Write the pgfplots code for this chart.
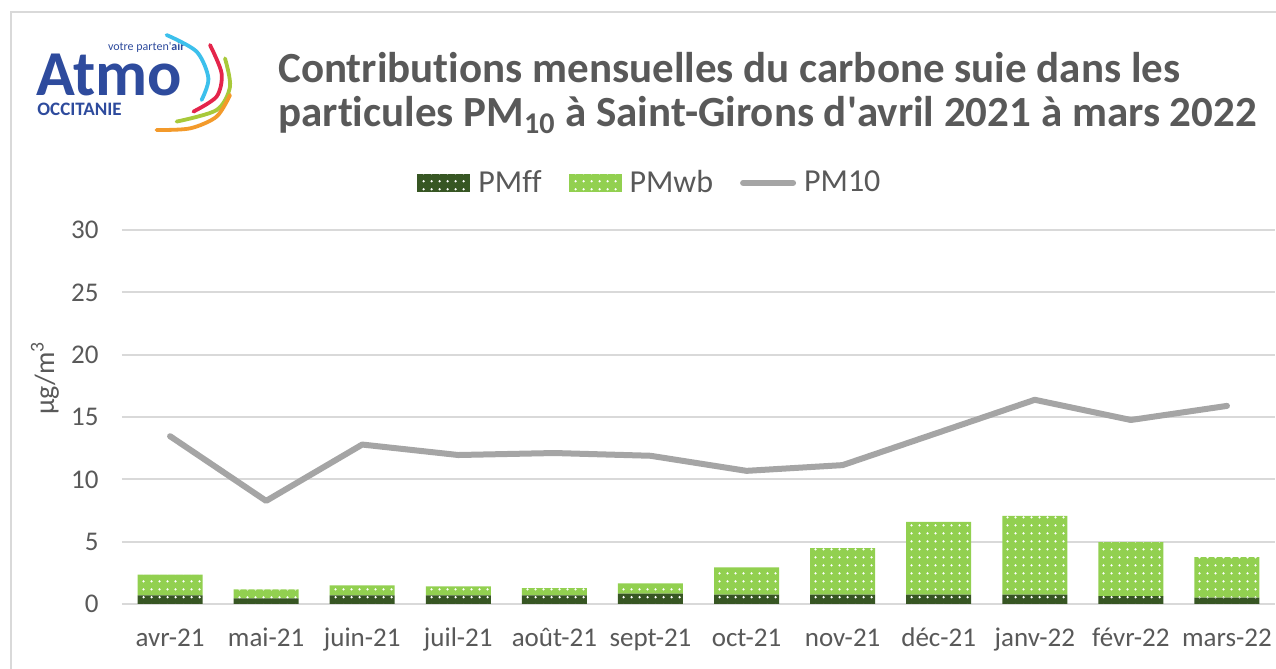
\documentclass[border=0pt]{standalone}
\usepackage{pgfplots}
\pgfplotsset{compat=1.18}
\usepackage{pgfplotstable}
\usepackage{fontspec}
\setmainfont{Carlito}[Ligatures={NoCommon}]
\usetikzlibrary{patterns.meta}
\definecolor{pmff}{HTML}{375623}
\definecolor{pmwb}{HTML}{92D050}
\definecolor{pmline}{HTML}{A5A5A5}
\definecolor{txt}{HTML}{595959}
\definecolor{gridc}{HTML}{D9D9D9}
\definecolor{atmoblue}{HTML}{2E4B9D}
\definecolor{acyan}{HTML}{3CC0EC}
\definecolor{ared}{HTML}{E4254B}
\definecolor{agreen}{HTML}{A8C93A}
\definecolor{aorange}{HTML}{F39A2B}

\pgfplotsset{
  barleg/.style={legend image code/.code={\path[##1, draw=none] (0pt,-4.5pt) rectangle (26.5pt,4.5pt);}},
  lineleg/.style={legend image code/.code={\draw[pmline, line width=3pt, line cap=round] (1.5pt,0pt) -- (26.5pt,0pt);}},
}

\pgfplotstableread{
x ff wb pm
0 0.70 1.65 13.46
1 0.45 0.73 8.27
2 0.70 0.80 12.79
3 0.70 0.72 11.95
4 0.70 0.58 12.11
5 0.83 0.83 11.89
6 0.76 2.17 10.68
7 0.76 3.72 11.14
8 0.76 5.82 13.76
9 0.76 6.31 16.38
10 0.63 4.34 14.76
11 0.52 3.23 15.89
}\data

\begin{document}
\begin{tikzpicture}
\path[use as bounding box, fill=white] (0,0) rectangle (638pt,334.5pt);
\draw[gridc, line width=1pt] (5.5pt,0pt) -- (5.5pt,328.5pt) -- (638pt,328.5pt);

% logo
\node[anchor=base west, inner sep=0pt, text=atmoblue, font=\fontsize{32}{34}\selectfont\bfseries] at (18pt,286.5pt) {Atmo};
\node[anchor=base east, inner sep=0pt, text=atmoblue, font=\fontsize{6}{7}\selectfont] at (92.5pt,309pt) {votre parten\textquotesingle\textbf{air}};
\node[anchor=base west, inner sep=0pt, text=atmoblue, font=\fontsize{9.5}{11}\selectfont\bfseries] at (18.5pt,276.5pt) {OCCITANIE};
\draw[acyan, line width=1.9pt, line cap=round] plot[smooth] coordinates {(83.3pt,317pt) (98.3pt,308.7pt) (104.2pt,295.3pt) (100.8pt,284.5pt)};
\draw[ared, line width=1.9pt, line cap=round] plot[smooth] coordinates {(105pt,312pt) (110.8pt,297.8pt) (108.3pt,286.2pt) (96.7pt,278.7pt)};
\draw[agreen, line width=1.9pt, line cap=round] plot[smooth] coordinates {(112.5pt,305.3pt) (115pt,291.2pt) (108.3pt,279.5pt) (88.3pt,273.7pt)};
\draw[aorange, line width=1.9pt, line cap=round] plot[smooth] coordinates {(115pt,287pt) (108.3pt,276.2pt) (95pt,270.3pt) (78.3pt,269.5pt)};

% title
\node[anchor=base west, inner sep=0pt, text=txt, font=\fontsize{21.5}{24}\selectfont\bfseries] at (139pt,293pt) {Contributions mensuelles du carbone suie dans les};
\node[anchor=base west, inner sep=0pt, text=txt, font=\fontsize{21.5}{24}\selectfont\bfseries] at (139pt,271pt) {particules PM\textsubscript{10} à Saint-Girons d\textquotesingle avril 2021 à mars 2022};

\begin{axis}[
  at={(61pt,32.5pt)}, anchor=south west, scale only axis,
  width=576.5pt, height=187pt,
  xmin=-0.5, xmax=11.5, ymin=0, ymax=30,
  ybar stacked, bar width=32.5pt,
  xtick={0,...,11},
  xticklabels={avr-21,mai-21,juin-21,juil-21,août-21,sept-21,oct-21,nov-21,déc-21,janv-22,févr-22,mars-22},
  ytick={0,5,...,30},
  ymajorgrids, major grid style={draw=gridc, line width=0.9pt},
  axis line style={draw=none},
  major tick length=0pt, tick style={draw=none},
  /pgf/number format/assume math mode=true,
  ticklabel style={font=\fontsize{13.5}{16}\selectfont, text=txt},
  xticklabel style={anchor=base, yshift=-21.5pt},
  yticklabel style={anchor=east, inner sep=0pt, xshift=-11.5pt},
  legend columns=3,
  legend style={at={(0.457,1.126)}, anchor=center, draw=none, fill=none,
    font=\fontsize{16}{19}\selectfont, text=txt,
    nodes={inner sep=0pt},
    /tikz/every odd column/.append style={column sep=4pt},
    /tikz/every even column/.append style={column sep=13.5pt}},
  clip=false,
]
\addplot[fill=pmff, draw=none, postaction={pattern={Dots[distance=4pt, radius=0.7pt]}, pattern color=white}, barleg]
  table[x=x, y=ff]{\data};
\addlegendentry{PMff}
\addplot[fill=pmwb, draw=none, postaction={pattern={Dots[distance=4pt, radius=0.7pt]}, pattern color=white}, barleg]
  table[x=x, y=wb]{\data};
\addlegendentry{PMwb}
\addlegendimage{lineleg}
\addlegendentry{PM10}
\node[rotate=90, inner sep=0pt, text=txt, font=\fontsize{14}{16}\selectfont] at (rel axis cs:-0.0668,0.604) {µg/m\textsuperscript{3}};
\end{axis}

\begin{axis}[
  at={(61pt,32.5pt)}, anchor=south west, scale only axis,
  width=576.5pt, height=187pt,
  xmin=-0.5, xmax=11.5, ymin=0, ymax=30, hide axis, clip=false,
]
\addplot[pmline, line width=3pt, line cap=round, line join=round] table[x=x, y=pm]{\data};
\end{axis}
\end{tikzpicture}
\end{document}
